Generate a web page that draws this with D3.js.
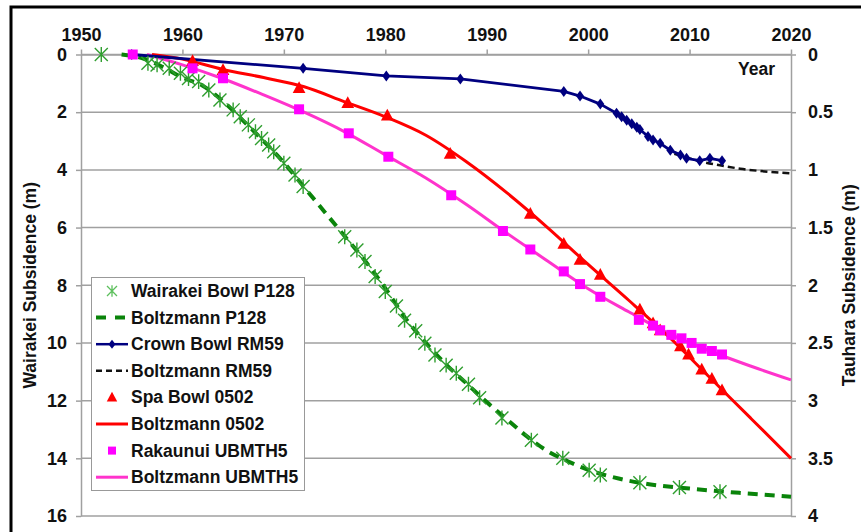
<!DOCTYPE html>
<html>
<head>
<meta charset="utf-8">
<script src="https://cdn.jsdelivr.net/npm/d3@7"></script>
<style>
  html, body { margin: 0; padding: 0; background: #fff; }
  svg { display: block; font-family: "Liberation Sans", Arial, sans-serif; font-weight: bold; }
</style>
</head>
<body>
<svg id="chart" width="861" height="532"></svg>
<script>
// Tick labels
const yearTicks = [1950, 1960, 1970, 1980, 1990, 2000, 2010, 2020];
const wairakeiTicks = [0, 2, 4, 6, 8, 10, 12, 14, 16];
const tauharaTicks = [0, 0.5, 1, 1.5, 2, 2.5, 3, 3.5, 4];

// Wairakei Bowl P128 (measured, m, left axis)
const p128Years = [1952.0, 1956.6, 1957.5, 1958.7, 1959.8, 1960.6, 1961.6, 1962.6, 1963.7, 1965.0, 1965.7, 1966.5, 1967.2, 1967.8, 1968.5, 1969.0, 1970.0, 1971.1, 1971.9, 1976.0, 1977.2, 1978.0, 1979.0, 1980.0, 1981.1, 1981.9, 1983.0, 1983.9, 1984.9, 1986.0, 1987.0, 1988.2, 1989.3, 1991.5, 1994.4, 1997.5, 2000.1, 2001.2, 2005.1, 2009.0, 2013.0];
const p128Values = [0.0, 0.3, 0.36, 0.48, 0.65, 0.83, 0.94, 1.23, 1.58, 1.92, 2.16, 2.44, 2.68, 2.91, 3.14, 3.37, 3.77, 4.18, 4.58, 6.32, 6.78, 7.18, 7.7, 8.22, 8.72, 9.21, 9.58, 10.01, 10.42, 10.77, 11.05, 11.43, 11.9, 12.6, 13.37, 14.0, 14.41, 14.58, 14.85, 15.01, 15.16];

// Boltzmann P128 (model, m, left axis)
const p128FitYears = [1954, 1956, 1958, 1960, 1962, 1964, 1966, 1968, 1970, 1972, 1974, 1976, 1978, 1980, 1982, 1984, 1986, 1988, 1990, 1992, 1994, 1996, 1998, 2000, 2003, 2006, 2010, 2015, 2020];
const p128FitValues = [0.0, 0.12, 0.42, 0.8, 1.08, 1.62, 2.3, 3.0, 3.75, 4.6, 5.45, 6.3, 7.15, 8.1, 9.15, 10.0, 10.75, 11.4, 12.05, 12.65, 13.25, 13.75, 14.1, 14.4, 14.7, 14.9, 15.05, 15.2, 15.33];

// Crown Bowl RM59 (measured, m, right axis)
const rm59Years = [1955.0, 1971.9, 1980.1, 1987.4, 1997.6, 1999.2, 2001.2, 2002.8, 2003.3, 2003.8, 2004.3, 2004.8, 2005.1, 2005.9, 2006.4, 2007.1, 2008.1, 2009.1, 2009.7, 2011.0, 2012.0, 2013.2];
const rm59Values = [0.0, 0.12, 0.186, 0.212, 0.32, 0.36, 0.43, 0.51, 0.54, 0.57, 0.6, 0.63, 0.65, 0.71, 0.74, 0.77, 0.83, 0.87, 0.9, 0.92, 0.9, 0.92];

// Boltzmann RM59 (model, m, right axis)
const rm59FitYears = [2008.5, 2010, 2011.5, 2013, 2015, 2017, 2020];
const rm59FitValues = [0.86, 0.9, 0.935, 0.96, 0.99, 1.01, 1.03];

// Spa Bowl 0502 (measured, m, right axis)
const spaYears = [1961.0, 1964.0, 1971.5, 1976.3, 1980.2, 1986.4, 1994.3, 1997.6, 1999.2, 2001.2, 2005.1, 2006.4, 2007.1, 2009.1, 2009.9, 2011.2, 2012.2, 2013.2];
const spaValues = [0.056, 0.134, 0.29, 0.42, 0.53, 0.86, 1.38, 1.64, 1.78, 1.91, 2.21, 2.33, 2.39, 2.53, 2.6, 2.73, 2.81, 2.91];

// Boltzmann 0502 (model, m, right axis)
const spaFitYears = [1957, 1960, 1964, 1968, 1972, 1976, 1980, 1984, 1988, 1992, 1996, 2000, 2004, 2008, 2012, 2016, 2020];
const spaFitValues = [0.0, 0.04, 0.13, 0.2, 0.28, 0.41, 0.54, 0.7, 0.93, 1.2, 1.5, 1.82, 2.13, 2.45, 2.8, 3.15, 3.5];

// Rakaunui UBMTH5 (measured, m, right axis)
const ubYears = [1955.1, 1961.0, 1964.0, 1971.5, 1976.4, 1980.3, 1986.5, 1991.6, 1994.3, 1997.6, 1999.2, 2001.2, 2005.0, 2006.4, 2007.1, 2008.2, 2009.2, 2010.2, 2011.2, 2012.2, 2013.2];
const ubValues = [0.0, 0.12, 0.206, 0.475, 0.683, 0.886, 1.22, 1.53, 1.69, 1.88, 1.99, 2.1, 2.3, 2.35, 2.39, 2.43, 2.46, 2.5, 2.55, 2.57, 2.6];

// Boltzmann UBMTH5 (model, m, right axis)
const ubFitYears = [1956.5, 1960, 1964, 1968, 1972, 1976, 1980, 1984, 1988, 1992, 1996, 2000, 2004, 2008, 2012, 2016, 2020];
const ubFitValues = [0.0, 0.09, 0.21, 0.35, 0.5, 0.67, 0.87, 1.07, 1.3, 1.55, 1.79, 2.03, 2.23, 2.42, 2.57, 2.7, 2.82];

const legendLabels = ["Wairakei Bowl P128", "Boltzmann P128", "Crown Bowl RM59", "Boltzmann RM59",
                      "Spa Bowl 0502", "Boltzmann 0502", "Rakaunui UBMTH5", "Boltzmann UBMTH5"];

const svg = d3.select("#chart");
const gridColor = "#a0a0a0";

// outer frame
svg.append("rect").attr("x", 11).attr("y", 7).attr("width", 860).attr("height", 540)
  .attr("fill", "none").attr("stroke", "#000").attr("stroke-width", 3);

const x = d3.scaleLinear().domain([1950, 2020]).range([81, 791]);
const yL = d3.scaleLinear().domain([0, 16]).range([54.5, 516]);
const yR = d3.scaleLinear().domain([0, 4]).range([54.5, 516]);

// horizontal gridlines
svg.append("g").selectAll("line").data(wairakeiTicks).join("line")
  .attr("x1", x(1950)).attr("x2", x(2020))
  .attr("y1", d => yL(d)).attr("y2", d => yL(d))
  .attr("stroke", gridColor).attr("stroke-width", 1.5);

function styleAxis(g) {
  g.select(".domain").attr("stroke", gridColor).attr("stroke-width", 1.5);
  g.selectAll(".tick line").attr("stroke", gridColor).attr("stroke-width", 1.5);
  g.selectAll(".tick text").attr("fill", "#111").style("font-size", "18px").style("font-weight", "bold")
    .style("font-family", '"Liberation Sans", Arial, sans-serif');
}

svg.append("g").attr("transform", `translate(0,${yL(0)})`)
  .call(d3.axisTop(x).tickValues(yearTicks).tickFormat(d3.format("d")).tickSize(5).tickSizeOuter(0).tickPadding(9))
  .call(styleAxis);
svg.append("g").attr("transform", `translate(${x(1950)},0)`)
  .call(d3.axisLeft(yL).tickValues(wairakeiTicks).tickSize(5).tickSizeOuter(0).tickPadding(9))
  .call(styleAxis);
svg.append("g").attr("transform", `translate(${x(2020)},0)`)
  .call(d3.axisRight(yR).tickValues(tauharaTicks).tickFormat(d3.format("~g")).tickSize(5).tickSizeOuter(0).tickPadding(12))
  .call(styleAxis);

// axis titles
svg.append("text").attr("transform", `translate(36,${(yL(0) + yL(16)) / 2}) rotate(-90)`)
  .attr("text-anchor", "middle").style("font-size", "17.5px").attr("fill", "#111").text("Wairakei Subsidence (m)");
svg.append("text").attr("transform", `translate(855,${(yL(0) + yL(16)) / 2}) rotate(-90)`)
  .attr("text-anchor", "middle").style("font-size", "17.5px").attr("fill", "#111").text("Tauhara Subsidence (m)");
svg.append("text").attr("x", 775).attr("y", 75).attr("text-anchor", "end")
  .style("font-size", "17.5px").attr("fill", "#111").text("Year");

const zip = (xs, ys) => xs.map((v, i) => [v, ys[i]]);

function drawLine(xs, ys, yScale, color, width, dash, curve) {
  const line = d3.line().x(d => x(d[0])).y(d => yScale(d[1])).curve(curve);
  svg.append("path").datum(zip(xs, ys)).attr("d", line)
    .attr("fill", "none").attr("stroke", color).attr("stroke-width", width)
    .attr("stroke-dasharray", dash).attr("stroke-linejoin", "round");
}

// marker shapes
const starPath = r => `M${-r},${-r}L${r},${r}M${-r},${r}L${r},${-r}M0,${-r * 1.15}L0,${r * 1.15}`;
const diamondPath = (w, h) => `M0,${-h}L${w},0L0,${h}L${-w},0Z`;
const trianglePath = s => `M0,${-s * 0.62}L${s * 0.58},${s * 0.45}L${-s * 0.58},${s * 0.45}Z`;
const squarePath = s => `M${-s / 2},${-s / 2}h${s}v${s}h${-s}Z`;

function drawMarkers(xs, ys, yScale, pathStr, fill, stroke, sw) {
  svg.append("g").selectAll("path").data(zip(xs, ys)).join("path")
    .attr("transform", d => `translate(${x(d[0])},${yScale(d[1])})`)
    .attr("d", pathStr).attr("fill", fill).attr("stroke", stroke).attr("stroke-width", sw);
}

const green = "#0a840a", starGreen = "#2f9e2f", navy = "#000080", red = "#ff0000", magenta = "#ff00ff", pinkLine = "#ff33cc";

// models and measurements
drawLine(ubFitYears, ubFitValues, yR, pinkLine, 3, null, d3.curveMonotoneX);
drawLine(spaFitYears, spaFitValues, yR, red, 3, null, d3.curveMonotoneX);
drawLine(p128FitYears, p128FitValues, yL, green, 4, "10,7", d3.curveMonotoneX);
drawLine(rm59FitYears, rm59FitValues, yR, "#111", 2.5, "7,4", d3.curveMonotoneX);
drawLine(rm59Years, rm59Values, yR, navy, 2.8, null, d3.curveLinear);

drawMarkers(p128Years, p128Values, yL, starPath(6.5), "none", starGreen, 1.4);
drawMarkers(rm59Years, rm59Values, yR, diamondPath(4, 5.5), navy, "none", 0);
drawMarkers(spaYears, spaValues, yR, trianglePath(11), red, "none", 0);
drawMarkers(ubYears, ubValues, yR, squarePath(10), magenta, "none", 0);

// legend
const legend = svg.append("g");
legend.append("rect").attr("x", 91.5).attr("y", 277.5).attr("width", 213).attr("height", 213)
  .attr("fill", "#fff").attr("stroke", "#999").attr("stroke-width", 1);

const legendY = i => 291 + i * 26.6;
const lx0 = 96, lx1 = 128, lxm = 112;
const seg = (i, color, width, dash) => legend.append("line")
  .attr("x1", lx0).attr("x2", lx1).attr("y1", legendY(i)).attr("y2", legendY(i))
  .attr("stroke", color).attr("stroke-width", width).attr("stroke-dasharray", dash);
const mark = (i, p, fill, stroke, sw) => legend.append("path")
  .attr("transform", `translate(${lxm},${legendY(i)})`).attr("d", p)
  .attr("fill", fill).attr("stroke", stroke).attr("stroke-width", sw);

mark(0, starPath(5), "none", "#5cbf5c", 1.3);
seg(1, green, 4, "10,9");
seg(2, navy, 2.5, null); mark(2, diamondPath(3.5, 4.5), navy, "none", 0);
seg(3, "#111", 2.5, "6,4");
mark(4, trianglePath(9), red, "none", 0);
seg(5, red, 3, null);
mark(6, squarePath(8), magenta, "none", 0);
seg(7, pinkLine, 3, null);

legend.selectAll("text.lbl").data(legendLabels).join("text").attr("class", "lbl")
  .attr("x", 131).attr("y", (d, i) => legendY(i) + 6)
  .style("font-size", "17.5px").attr("fill", "#111").text(d => d);
</script>
</body>
</html>
